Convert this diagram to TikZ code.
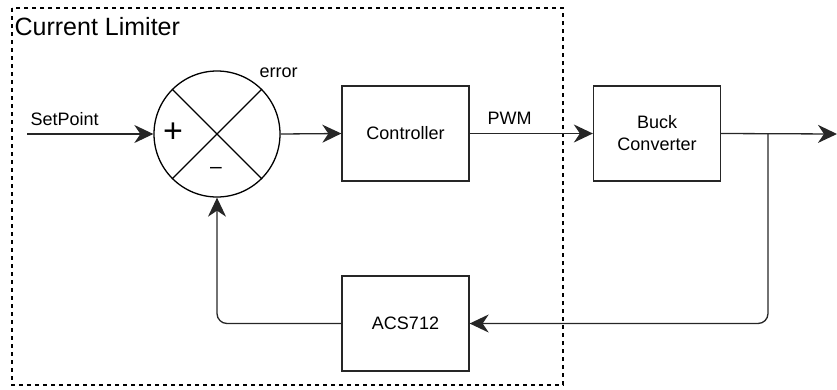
\documentclass[tikz,border=0pt]{standalone}
\usepackage{fontspec}
\setmainfont{Liberation Sans}
\usetikzlibrary{arrows.meta}
\begin{document}
\begin{tikzpicture}[x=1pt,y=-1pt,
  line width=1.3pt,
  wire/.style={draw=black!85, line width=1.3pt, rounded corners=10pt},
  arr/.style={wire, -{Stealth[length=19pt,width=18pt,inset=6pt]}},
  block/.style={draw=black!85, line width=1.3pt, minimum width=127pt, minimum height=95pt, inner sep=0pt, align=center, font=\fontsize{18}{22}\selectfont},
  lbl/.style={anchor=base west, inner sep=0pt, font=\fontsize{18}{22}\selectfont},
  frame/.style={draw=black, line width=1.3pt, dash pattern=on 4pt off 4pt}
]
\useasboundingbox (0,0) rectangle (837,389);

% dashed enclosure of the limiter
\draw[frame] (12,8) rectangle (563,385);
\node[lbl, font=\fontsize{25}{30}\selectfont] (title) at (14,35) {Current Limiter};

% summing junction
\node[draw=black, line width=1.3pt, circle, minimum size=126pt, inner sep=0pt] (sum) at (217,134) {};
\draw[line width=1.3pt] (sum.45) -- (sum.225) (sum.135) -- (sum.-45);
\node[inner sep=0pt, font=\fontsize{34}{36}\selectfont] (plus) at (173,133) {+};
\node[inner sep=0pt, font=\fontsize{21}{24}\selectfont] (minus) at (216,170) {–};
\node[lbl] (err) at (259,77) {error};

% blocks
\node[block] (ctrl) at (405.5,133.5) {Controller};
\node[block] (buck) at (657,133.5) {Buck\\Converter};
\node[block] (acs) at (405.5,323.5) {ACS712};

% signal path
\coordinate (sp) at (27,134);
\coordinate (out) at (837,134);
\coordinate (tap) at (768,134);
\coordinate (fbR) at (768,323.5);
\coordinate (fbL) at (217,323.5);

\draw[arr] (sp) -- (sum.west);
\node[lbl] (spl) at (30,125) {SetPoint};
\draw[arr] (sum.east) -- (ctrl.west);
\draw[arr] (ctrl.east) -- (buck.west);
\node[lbl] (pwm) at (487,124) {PWM};
\draw[arr] (buck.east) -- (out);

% feedback path
\draw[arr] (tap) -- (fbR) -- (acs.east);
\draw[arr] (acs.west) -- (fbL) -- (sum.south);
\end{tikzpicture}
\end{document}
